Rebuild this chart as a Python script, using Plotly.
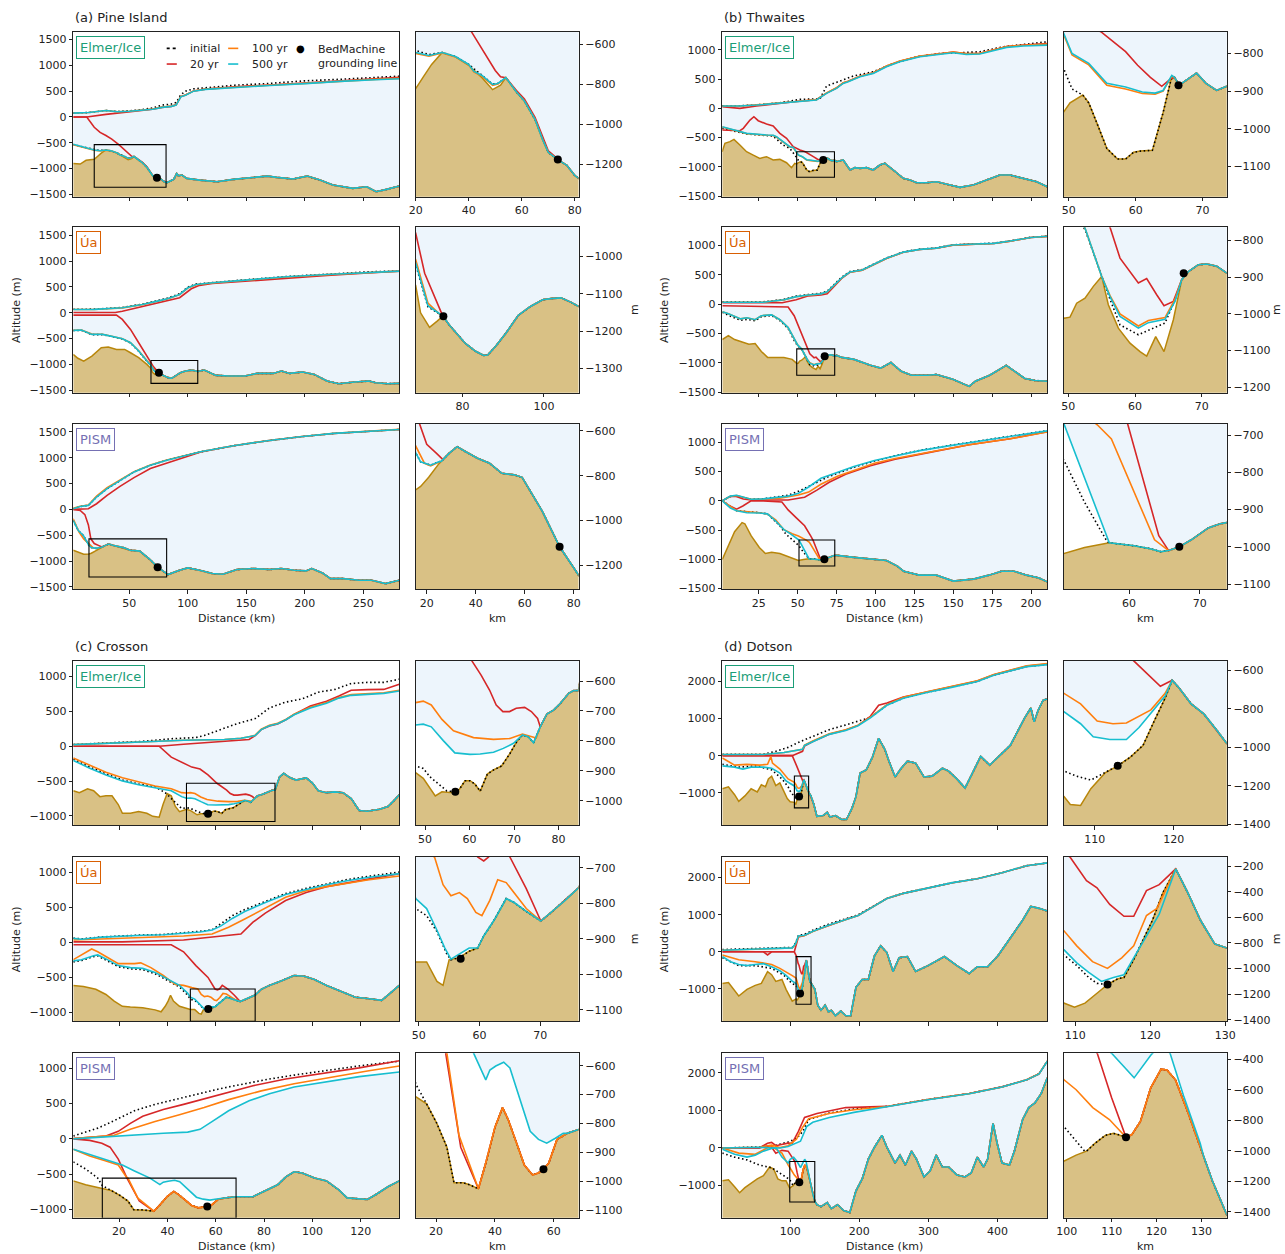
import plotly.graph_objects as go

W, H = 1285, 1254
FLOOR = -20000.0

# ============ (a) Pine Island ============
PI_X_RANGE = [2.1, 280.8]
PI_Y_RANGE = [-1545, 1652]

PI_EL_BED = [(2,-900),(8,-912),(13,-840),(17,-828),(20,-821),(23,-760),(26,-700),(30,-640),(35,-662),(40,-704),(45,-766),(49,-826),(52,-804),(54,-766),(58,-838),(61,-883),(65,-975),(68,-1080),(70,-1140),(72,-1160),(74,-1180),(77,-1205),(80,-1256),(82,-1275),(86,-1230),(88,-1210),(90.5,-1094),(92,-1140),(95,-1126),(99,-1190),(110,-1223),(125,-1255),(139,-1210),(151,-1178),(168,-1146),(176,-1171),(190,-1203),(202,-1146),(213,-1223),(224,-1320),(241,-1384),(253,-1352),(261,-1448),(270,-1403),(281,-1339)]
PI_EL_TOP0 = [(2,75),(15,85),(30,125),(40,105),(50,120),(60,140),(70,175),(78,230),(86,250),(90,280),(94,430),(98,500),(105,545),(115,565),(140,615),(170,650),(200,700),(230,730),(260,765),(281,790)]
PI_EL_TOP20 = [(2,0),(13.6,0),(30,50),(45,85),(50,105),(60,125),(70,150),(78,185),(86,205),(90,235),(94,395),(98,425),(105,505),(115,540),(140,585),(170,620),(200,660),(230,710),(260,745),(281,770)]
PI_EL_TOP100 = [(2,75),(15,85),(30,125),(40,100),(50,112),(60,128),(70,155),(78,190),(86,210),(90,235),(94,395),(98,425),(105,505),(115,540),(140,580),(170,615),(200,650),(230,695),(260,728),(281,748)]
PI_EL_TOP500 = [(2,75),(15,85),(30,125),(40,100),(50,110),(60,125),(70,150),(78,185),(86,205),(90,230),(94,390),(98,420),(105,500),(115,535),(140,575),(170,610),(200,645),(230,690),(260,720),(281,740)]
PI_EL_BOT0 = [(2,-535),(10,-582),(20,-630),(25,-650),(30,-640),(35,-660),(40,-700),(45,-752),(49,-798),(51,-795),(54,-766)]
PI_EL_BOT20 = [(2,0),(13.6,0),(20,-200),(25,-300),(30,-360),(35,-430),(41,-536),(46,-640),(50,-730),(52,-762),(54,-766),(58,-830),(61,-873),(65,-965),(68,-1070),(70,-1132),(72,-1155),(74,-1180)]
PI_EL_BOT100 = [(2,-540),(10,-585),(20,-645),(25,-658),(28,-650),(30,-642),(35,-662),(40,-702),(42,-738),(45,-758),(49,-805),(51,-798),(54,-766)]
PI_EL_BOT500 = [(2,-530),(10,-580),(20,-640),(25,-655),(28,-648),(30,-640),(35,-660),(40,-700),(42,-735),(45,-755),(49,-800),(51,-795),(54,-766)]
PI_EL_GL = (73.6, -1176)
PI_EL_ZOOM = ([20, 81.4], [-1362, -536])

PI_UA_BED = [(2,-805),(6,-880),(11,-934),(18,-837),(26,-676),(32,-663),(39,-708),(46,-708),(51,-773),(58,-869),(65,-998),(68.5,-1078),(69.7,-1151),(71.9,-1190),(73.7,-1174),(75.2,-1160),(76.7,-1183),(78.7,-1209),(80.7,-1233),(83.2,-1254),(85.2,-1265),(86.2,-1264),(88.2,-1240),(90.7,-1205),(93.7,-1158),(96.7,-1134),(99.7,-1116),(101.7,-1113),(104.2,-1111),(106.7,-1123),(108.5,-1134),(114,-1107),(124,-1210),(135,-1223),(149,-1223),(159,-1172),(173,-1172),(180,-1127),(187,-1172),(198,-1146),(208,-1191),(219,-1320),(229,-1371),(243,-1339),(255,-1320),(260.5,-1352),(271,-1371),(281,-1365)]
PI_UA_TOP0 = [(2,68),(20,70),(44,102),(61,168),(75,240),(82.5,282),(93,368),(100,495),(107,556),(121,588),(149,638),(184,700),(219,745),(254,790),(281,810)]
PI_UA_TOP20 = [(2,5),(38,5),(44,30),(61,120),(75,200),(82.5,240),(93,290),(103,463),(110,530),(121,565),(149,612),(184,670),(219,721),(254,770),(281,805)]
PI_UA_TOP100 = [(2,62),(20,64),(44,95),(61,158),(75,226),(82.5,266),(93,350),(100,478),(107,543),(121,577),(149,628),(184,692),(219,737),(254,783),(281,804)]
PI_UA_TOP500 = [(2,64),(20,66),(44,97),(61,161),(75,230),(82.5,270),(93,354),(100,483),(107,547),(121,580),(149,631),(184,695),(219,740),(254,785),(281,805)]
PI_UA_BOT0 = [(2,-345),(9,-340),(18,-422),(27,-422),(34,-455),(44,-505),(51,-585),(58,-745),(65,-938),(68.5,-1022),(71.5,-1135),(75.2,-1160)]
PI_UA_BOT20 = [(2,-45),(39,-45),(44,-129),(51,-322),(58,-580),(65,-837),(68.5,-938),(70.7,-1045),(75,-1156),(75.2,-1160)]
PI_UA_BOT100 = [(2,-338),(9,-332),(18,-412),(27,-414),(34,-448),(44,-500),(51,-578),(58,-735),(65,-925),(68.5,-1009),(71.5,-1125),(74.5,-1156),(75.2,-1160)]
PI_UA_BOT500 = [(2,-341),(9,-335),(18,-418),(27,-418),(34,-451),(44,-502),(51,-580),(58,-740),(65,-934),(68.5,-1018),(71.5,-1132),(74.5,-1156),(75.2,-1160)]
PI_UA_GL = (75.3, -1160)
PI_UA_ZOOM = ([68.5, 108.5], [-1365, -922])

PI_PS_BED = [(2,-789),(6,-830),(11,-866),(15.5,-863),(17.5,-848),(20.8,-807),(24.9,-747),(29.1,-700),(32.4,-670),(35.7,-692),(40.7,-722),(45.6,-744),(50.6,-789),(55.6,-796),(58.9,-807),(67.2,-960),(74.2,-1117),(81.9,-1243),(83,-1260),(93,-1176),(100,-1131),(110,-1176),(121,-1241),(130,-1254),(142,-1163),(156,-1144),(170,-1163),(180,-1144),(191,-1176),(201,-1189),(206,-1144),(215,-1228),(222,-1338),(232.5,-1338),(246.5,-1370),(257,-1370),(269,-1435),(281,-1370)]
PI_PS_TOP0 = [(2,13),(8,57),(15,78),(22,240),(31,401),(42,563),(54,725),(68,855),(82,952),(111,1114),(139,1231),(168,1328),(196,1405),(225,1470),(253,1515),(281,1547)]
PI_PS_TOP20 = [(2,0),(15,13),(22,110),(31,272),(42,447),(54,615),(68,790),(82,900),(100,1030),(111,1110),(139,1230),(168,1327),(196,1404),(225,1469),(253,1514),(281,1546)]
PI_PS_TOP100 = [(2,20),(8,62),(15,85),(22,260),(31,420),(42,575),(54,730),(68,858),(82,955),(111,1116),(139,1232),(168,1329),(196,1406),(225,1471),(253,1516),(281,1548)]
PI_PS_TOP500 = [(2,13),(8,57),(15,78),(22,240),(31,401),(42,563),(54,725),(68,855),(82,952),(111,1114),(139,1231),(168,1328),(196,1405),(225,1470),(253,1515),(281,1547)]
PI_PS_BOT0 = [(2,-214),(6.4,-408),(10.7,-505),(15.5,-698),(17.5,-738),(21.6,-753),(24.9,-738),(26,-735)]
PI_PS_BOT20 = [(2,0),(8,-20),(12,-100),(15,-300),(17.1,-569),(20,-660),(24,-700),(26.6,-728)]
PI_PS_BOT100 = [(2,-181),(7,-440),(11,-570),(15.5,-671),(19.1,-745),(21.6,-756),(24.9,-740),(26,-735)]
PI_PS_BOT500 = [(2,-214),(6.4,-408),(10.7,-505),(15.5,-698),(17.5,-738),(21.6,-753),(24.9,-738),(26,-735)]
PI_PS_GL = (74.2, -1117)
PI_PS_ZOOM = ([15.5, 81.9], [-1307, -569])

# ============ (b) Thwaites ============
TH_X_RANGE = [1.5, 210.4]
TH_Y_RANGE = [-1512, 1313]

TH_EL_BED = [(1.4,-742),(3.2,-599),(6.4,-570),(9,-530),(12.8,-627),(17.1,-742),(21.4,-799),(25.6,-856),(29.9,-827),(34.2,-884),(38.5,-873),(42.8,-930),(46,-1015),(48.1,-941),(49.3,-954),(50.2,-931),(52.1,-910),(53,-931),(54.2,-984),(55.7,-1052),(57.3,-1080),(58.5,-1080),(59.7,-1062),(60.7,-1059),(62.5,-1057),(64.1,-957),(65.3,-868),(65.8,-863),(66.5,-884),(67.8,-868),(69.1,-852),(70.5,-879),(72.1,-898),(73.6,-887),(74.9,-913),(79.2,-884),(83.6,-1055),(86.8,-1015),(90,-1027),(94.2,-1015),(98.5,-1055),(102.8,-970),(106,-941),(111.4,-1055),(117.8,-1198),(122.1,-1226),(126.4,-1272),(132.8,-1272),(139.3,-1255),(147.8,-1312),(154.3,-1352),(162.8,-1312),(171.4,-1226),(180,-1141),(186.3,-1141),(194.9,-1198),(203.5,-1255),(210.4,-1341)]
TH_EL_TOP0 = [(1.4,45),(12.8,45),(23.5,60),(38.5,97),(51.4,154),(64.3,165),(68.5,382),(77,473),(85.6,553),(98.5,627),(111.4,770),(126.4,884),(141.3,941),(154.3,953),(167,970),(181.9,1055),(194.9,1090),(210.4,1141)]
TH_EL_TOP20 = [(1.4,29),(12.8,0),(23.5,40),(38.5,88),(49.2,118),(62,148),(68.5,262),(74.9,350),(79.2,436),(82.4,464),(90,550),(98.5,608),(107,722),(115.6,808),(128.5,893),(141.3,935),(149.9,964),(158.4,936),(167,942),(175.6,1000),(184.2,1058),(194.9,1085),(210.4,1112)]
TH_EL_TOP100 = [(1.4,42),(12.8,42),(23.5,60),(38.5,90),(49.2,118),(62,150),(68.5,265),(74.9,352),(79.2,438),(82.4,466),(90,552),(98.5,610),(107,724),(115.6,810),(128.5,895),(141.3,936),(149.9,965),(158.4,937),(167,943),(175.6,1000),(184.2,1057),(194.9,1082),(210.4,1100)]
TH_EL_TOP500 = [(1.4,40),(12.8,40),(23.5,57),(38.5,86),(49.2,114),(62,143),(68.5,257),(74.9,342),(79.2,428),(82.4,456),(90,542),(98.5,599),(107,713),(115.6,799),(128.5,884),(141.3,924),(149.9,953),(158.4,924),(167,930),(175.6,987),(184.2,1044),(194.9,1067),(210.4,1084)]
TH_EL_BOT0 = [(1.4,-342),(8.5,-382),(17.1,-439),(34.2,-473),(40.6,-627),(44.9,-685),(47.5,-770),(49.3,-842),(50.5,-894),(52.1,-910)]
TH_EL_BOT20 = [(1.4,-371),(12.8,-382),(15,-342),(19.3,-200),(21.8,-143),(24.6,-211),(29.9,-268),(34.2,-302),(38.5,-428),(42.8,-513),(47.1,-656),(51.4,-713),(54.8,-742),(58.5,-795),(60.3,-831),(62.2,-863),(63.9,-887),(65.3,-866),(65.8,-863)]
TH_EL_BOT100 = [(1.4,-318),(8.5,-374),(17.1,-432),(29.9,-460),(34.2,-463),(36.3,-490),(40.6,-575),(44.9,-660),(47.1,-672),(49.3,-752),(50.5,-804),(53,-830),(55.7,-884),(58.5,-894),(61,-906),(62.9,-908),(64.1,-900),(65.4,-860),(65.8,-863)]
TH_EL_BOT500 = [(1.4,-314),(8.5,-371),(17.1,-428),(29.9,-456),(34.2,-460),(36.3,-485),(40.6,-570),(44.9,-656),(47.1,-667),(49.3,-748),(50.5,-800),(53,-826),(55.7,-879),(58.5,-889),(61,-902),(62.9,-905),(64.1,-898),(65.4,-858),(65.8,-863)]
TH_EL_GL = (66.4, -884)
TH_EL_ZOOM = ([49.3, 73.6], [-1180, -742])

TH_UA_BED = [(1.5,-604),(5.4,-536),(9.4,-604),(14.7,-658),(18.6,-685),(22.6,-672),(26.6,-807),(30.6,-909),(35.8,-909),(41.1,-909),(46.4,-943),(49.35,-1012),(50.25,-1009),(51.25,-971),(52.5,-957),(53.75,-925),(55,-898),(56,-975),(57.5,-1039),(59.25,-1080),(60.75,-1103),(61.75,-1115),(63.1,-1062),(64.35,-1103),(65.75,-1016),(67,-907),(68,-885),(69.5,-866),(70.75,-864),(72.25,-870),(73.75,-889),(75,-875),(78.2,-909),(86.1,-943),(96.7,-1045),(103.3,-1092),(109.9,-997),(116.5,-1146),(123.1,-1214),(133.7,-1214),(139,-1201),(149.6,-1282),(160.2,-1404),(164.2,-1316),(173.4,-1214),(184,-1045),(195.9,-1269),(202.5,-1303),(210.4,-1316)]
TH_UA_TOP0 = [(1.5,40),(27.9,40),(41.1,82),(49,138),(56.9,165),(64.9,186),(68.9,222),(72.9,328),(78.2,460),(83.5,558),(91.4,590),(99.3,690),(107.3,792),(117.9,893),(128.4,940),(139,960),(149.6,1014),(160.2,1027),(176.1,1041),(186.6,1082),(199.9,1143),(210.4,1163)]
TH_UA_TOP20 = [(1.5,25),(40,25),(49,75),(56.9,142),(64.9,156),(68.9,176),(72.9,290),(78.2,440),(83.5,545),(91.4,580),(99.3,683),(107.3,785),(117.9,887),(128.4,934),(139,955),(149.6,1009),(160.2,1022),(176.1,1036),(186.6,1077),(199.9,1138),(210.4,1158)]
TH_UA_TOP100 = [(1.5,33),(27.9,33),(41.1,74),(49,127),(56.9,154),(64.9,174),(68.9,208),(72.9,310),(78.2,446),(83.5,547),(91.4,581),(99.3,683),(107.3,785),(117.9,887),(128.4,934),(139,955),(149.6,1009),(160.2,1022),(176.1,1036),(186.6,1077),(199.9,1138),(210.4,1158)]
TH_UA_TOP500 = [(1.5,34),(27.9,34),(41.1,75),(49,129),(56.9,156),(64.9,176),(68.9,210),(72.9,312),(78.2,448),(83.5,549),(91.4,583),(99.3,685),(107.3,787),(117.9,889),(128.4,936),(139,957),(149.6,1011),(160.2,1024),(176.1,1038),(186.6,1079),(199.9,1140),(210.4,1160)]
TH_UA_BOT0 = [(1.5,-140),(5.4,-190),(13.3,-275),(17.3,-260),(22.6,-285),(26.6,-215),(33.2,-195),(38.5,-280),(43.8,-415),(47.7,-620),(50,-712),(52.5,-770),(55,-898),(56.25,-960),(57.75,-1030),(60.5,-1057),(64.5,-1025),(66.2,-953),(67,-907)]
TH_UA_BOT20 = [(1.5,-27),(43.8,-47),(47.7,-197),(53,-536),(56.25,-764),(57.75,-848),(60.5,-916),(61.75,-904),(63.25,-948),(64.35,-978),(65.75,-966),(67,-907)]
TH_UA_BOT100 = [(1.5,-129),(5.4,-163),(13.3,-251),(17.3,-231),(22.6,-265),(26.6,-197),(33.2,-183),(38.5,-265),(43.8,-400),(47.7,-604),(50,-700),(52.5,-766),(55,-898),(56.25,-950),(57.75,-1000),(60.5,-1033),(62,-1018),(64.5,-1010),(66,-960),(67,-907)]
TH_UA_BOT500 = [(1.5,-129),(5.4,-163),(13.3,-251),(17.3,-231),(22.6,-265),(26.6,-197),(33.2,-183),(38.5,-265),(43.8,-400),(47.7,-604),(50,-700),(52.5,-766),(55,-898),(56.25,-953),(57.75,-1007),(60.5,-1039),(62,-1024),(64.5,-1015),(66,-966),(67,-907)]
TH_UA_GL = (67.3, -889)
TH_UA_ZOOM = ([49.35, 73.75], [-1215, -764])

TH_PS_BED = [(1.5,-1000),(5.4,-764),(9.4,-527),(14.2,-372),(16,-392),(20,-595),(25.3,-797),(29.2,-899),(33.2,-878),(38.5,-899),(43.8,-953),(50.4,-1020),(53.7,-1002),(57.2,-989),(60.7,-997),(63,-1005),(64.5,-1013),(65.6,-1010),(67.1,-1000),(68.8,-981),(71.2,-949),(72.9,-938),(73.8,-935),(75,-932),(86,-966),(97,-1000),(107,-1020),(114,-1115),(118,-1203),(128,-1270),(139,-1270),(150,-1372),(157.5,-1358),(163,-1338),(173,-1270),(181,-1203),(189,-1203),(197,-1270),(205,-1318),(210.4,-1385)]
TH_PS_TOP0 = [(1.5,0),(6.7,75),(10.7,90),(14.7,60),(20,30),(27.9,36),(38.5,70),(43.8,95),(50.4,162),(59.6,284),(70.2,419),(86.1,574),(99.3,680),(112.6,772),(128.4,862),(147,945),(165.5,1020),(186.6,1100),(210.4,1200)]
TH_PS_TOP20 = [(1.5,0),(6,70),(10,80),(15,30),(20,14),(43.8,14),(54.4,61),(62.3,182),(70.2,318),(80.8,453),(96.7,601),(112.6,709),(134,824),(160.2,959),(186.6,1061),(210.4,1180)]
TH_PS_TOP100 = [(1.5,0),(6.7,78),(10.7,92),(14.7,60),(20,27),(27.9,32),(38.5,45),(50.4,100),(57,149),(64.9,284),(75.5,419),(86.1,520),(99.3,642),(112.6,723),(134,824),(160.2,959),(186.6,1061),(210.4,1176)]
TH_PS_TOP500 = [(1.5,0),(6.7,81),(10.7,95),(14.7,61),(20,27),(27.9,34),(38.5,61),(43.8,81),(50.4,128),(57,236),(64.9,385),(75.5,486),(86.1,588),(99.3,689),(112.6,770),(128.4,858),(147,939),(165.5,1014),(186.6,1095),(210.4,1196)]
TH_PS_BOT0 = [(1.5,0),(10.7,-169),(25.3,-203),(30.5,-223),(38.5,-426),(42.5,-574),(46.4,-662),(49,-720),(50.8,-768),(53.7,-880),(56.9,-986),(57.2,-989)]
TH_PS_BOT20 = [(1.5,0),(5.4,-74),(10.7,-142),(14.7,-88),(20,0),(27.9,0),(39.8,-20),(43.8,-155),(49.1,-291),(54.4,-426),(58.3,-600),(59.8,-670),(64.2,-970),(65.6,-1010)]
TH_PS_BOT100 = [(1.5,0),(10.7,-169),(25.3,-205),(30.5,-225),(35.8,-324),(41.1,-493),(46.4,-561),(50.4,-600),(55.5,-672),(57.5,-710),(63.6,-981),(65.6,-1010)]
TH_PS_BOT500 = [(1.5,0),(6.7,-122),(10.7,-169),(17.3,-203),(25.3,-209),(30.5,-223),(35.8,-345),(41.1,-493),(45.1,-561),(49.1,-640),(50.8,-670),(57.2,-989)]
TH_PS_GL = (67.1, -1000)
TH_PS_ZOOM = ([50.8, 73.8], [-1114, -670])

# ============ (c) Crosson ============
CR_X_RANGE = [1.1, 135.9]
CR_Y_RANGES = [[-1131, 1227], [-1133, 1224], [-1118, 1213]]

CR_EL_BED = [(1.1,-639),(3.6,-667),(7,-611),(9.5,-639),(12.1,-724),(14.6,-713),(17.1,-713),(19.7,-837),(21.4,-962),(24.7,-962),(28.1,-939),(31.5,-962),(34,-1007),(36.6,-1018),(38.2,-837),(39.9,-679),(41.6,-713),(43.3,-865),(45,-939),(46.7,-922),(47.9,-906),(49.6,-925),(51.1,-959),(52.3,-984),(53.8,-970),(55.6,-972),(56.8,-970),(57.7,-962),(59,-933),(60.1,-933),(61.2,-944),(62.4,-968),(64,-911),(65.4,-897),(67.2,-884),(69.1,-842),(70.6,-803),(71.9,-780),(73.2,-786),(74.4,-806),(75.9,-753),(77.4,-710),(78.9,-697),(80.4,-675),(82.3,-641),(83.4,-632),(84.5,-632),(86.4,-441),(88.1,-390),(90.6,-450),(93.2,-486),(95.7,-469),(97.4,-455),(99.9,-526),(102.4,-639),(105.8,-667),(109.2,-656),(112.6,-667),(116,-752),(119.3,-922),(122.7,-933),(127.8,-905),(131.2,-865),(133.7,-781),(135.9,-696)]
CR_EL_TOP0 = [(1.1,25),(13,42),(29.8,70),(41.6,107),(51.8,124),(55.2,153),(62,238),(68.7,322),(76.3,396),(82.2,549),(89,633),(95.7,679),(102.4,775),(109.3,815),(116,899),(122.7,916),(129.5,916),(135.9,962)]
CR_EL_TOP20 = [(1.1,0),(36.6,0),(46.7,28),(60.2,57),(73.8,96),(76.3,150),(78.8,238),(82.2,290),(85.6,320),(89,380),(92.4,455),(99.1,577),(105.8,645),(110.9,720),(116,803),(122.7,812),(129.5,815),(135.9,888)]
CR_EL_TOP100 = [(1.1,23),(13,40),(29.8,68),(46.7,85),(63.6,96),(70.4,113),(73.8,136),(76.3,158),(78.8,243),(82.2,300),(85.6,328),(89,385),(92.4,460),(99.1,560),(105.8,628),(110.9,700),(116,740),(122.7,755),(129.5,768),(135.9,803)]
CR_EL_TOP500 = [(1.1,23),(13,40),(29.8,68),(46.7,85),(63.6,96),(70.4,113),(73.8,136),(76.3,153),(78.8,238),(82.2,294),(85.6,322),(89,379),(92.4,452),(99.1,549),(105.8,617),(110.9,690),(116,730),(122.7,747),(129.5,758),(135.9,792)]
CR_EL_BOT0 = [(1.1,-187),(7.9,-300),(14.6,-396),(21.4,-486),(28.1,-543),(34.9,-583),(39.1,-667),(42.5,-781),(45.9,-894),(47.9,-884),(49.6,-892),(51.1,-920),(53.7,-951),(54.9,-967),(56.8,-970)]
CR_EL_BOT20 = [(1.1,0),(36.6,0),(41.6,-158),(46.7,-243),(50.1,-300),(53.5,-328),(56.8,-413),(60.5,-532),(62.6,-580),(64.5,-630),(66,-680),(67.5,-702),(69,-702),(70.5,-691),(72.4,-688),(73.9,-702),(75.3,-725),(75.9,-753)]
CR_EL_BOT100 = [(1.1,-170),(7.9,-271),(14.6,-373),(21.4,-452),(28.1,-509),(34.9,-571),(41.6,-611),(45.9,-667),(47.9,-672),(49.6,-667),(51.4,-680),(53.8,-728),(56.4,-766),(60.9,-789),(65.4,-795),(69.1,-792),(71.9,-777),(73.9,-786),(75,-790),(75.9,-753)]
CR_EL_BOT500 = [(1.1,-204),(7.9,-317),(14.6,-413),(21.4,-498),(28.1,-554),(34.9,-594),(41.6,-639),(45.9,-724),(47.9,-747),(49.6,-744),(51.4,-753),(54.1,-799),(56.7,-840),(60.1,-845),(62.4,-844),(65.4,-838),(67.6,-825),(69.9,-808),(71.9,-780)]
CR_EL_GL = (56.8, -970)
CR_EL_ZOOM = ([47.9, 84.5], [-1081, -532])

CR_UA_BED = [(1.1,-618),(5.3,-635),(10.4,-674),(14.6,-748),(18,-844),(21.4,-918),(24.7,-929),(29.8,-940),(34.9,-969),(37.4,-997),(39.1,-918),(40.3,-844),(41.3,-759),(42.5,-844),(45,-918),(47.5,-940),(49.5,-965),(51.3,-965),(53,-1020),(54,-1031),(55,-959),(56.7,-953),(58.3,-935),(59.7,-926),(60.7,-892),(62.4,-848),(64.4,-787),(65.7,-798),(67.7,-823),(70.1,-850),(71.8,-826),(74.1,-792),(76.3,-757),(78.8,-674),(82.2,-618),(87.3,-550),(92.4,-476),(96.6,-487),(100.8,-533),(105.8,-618),(112.6,-714),(117.7,-788),(122.7,-805),(128.6,-833),(131.2,-759),(135.9,-618)]
CR_UA_TOP0 = [(1.1,60),(4.5,50),(13,78),(21.4,95),(29.8,106),(38.3,112),(46.7,135),(55.2,164),(58.5,180),(62,261),(67,385),(72,470),(80.5,590),(88.9,700),(97.4,775),(105.8,840),(114.3,900),(122.7,945),(135.9,1008)]
CR_UA_TOP20 = [(1.1,6),(21.4,6),(46.7,34),(55.2,62),(62,91),(70.4,119),(75.4,289),(80.5,419),(88.9,600),(97.4,714),(105.8,799),(122.7,910),(135.9,986)]
CR_UA_TOP100 = [(1.1,34),(21.4,57),(46.7,91),(58.5,119),(65.3,215),(72,334),(80.5,487),(88.9,646),(97.4,740),(105.8,799),(122.7,895),(135.9,952)]
CR_UA_TOP500 = [(1.1,57),(4.5,45),(13,74),(21.4,91),(29.8,102),(38.3,108),(46.7,130),(53.5,147),(58.5,176),(62,232),(67,346),(72,442),(80.5,572),(88.9,686),(97.4,759),(105.8,827),(114.3,884),(122.7,929),(135.9,986)]
CR_UA_BOT0 = [(1.1,-280),(4.5,-262),(9.5,-205),(11.2,-195),(14.6,-255),(19.7,-350),(24.7,-380),(29.8,-392),(34.9,-450),(40,-540),(45,-640),(48.4,-760),(49.5,-815),(51.3,-835),(53,-880),(54.6,-942),(55.3,-959),(56.7,-953)]
CR_UA_BOT20 = [(1.1,-34),(41.6,-34),(46.7,-136),(51.8,-334),(56.8,-504),(59.7,-670),(60.7,-681),(61.5,-670),(62.7,-618),(65,-670),(67.7,-759),(70.1,-850)]
CR_UA_BOT100 = [(1.1,-249),(6.2,-147),(8.7,-96),(11.2,-136),(14.6,-204),(19.7,-306),(26.4,-306),(29,-295),(33.2,-363),(38.3,-476),(43.3,-606),(46.7,-618),(50.1,-650),(52.6,-670),(54,-748),(55.3,-779),(56.7,-770),(58,-787),(59.4,-826),(60.4,-835),(61.7,-792),(63,-734),(64.4,-742),(65.7,-770),(67.7,-815),(70.1,-850)]
CR_UA_BOT500 = [(1.1,-266),(4.5,-249),(9.5,-193),(11.2,-181),(14.6,-238),(19.7,-334),(24.7,-363),(29.8,-374),(34.9,-431),(40,-521),(45,-618),(48.4,-731),(49.5,-787),(51.3,-815),(53,-876),(54.3,-926),(55.3,-957),(56.7,-942),(58.3,-926),(59.7,-926)]
CR_UA_GL = (56.9, -956)
CR_UA_ZOOM = ([49.5, 76.3], [-1132, -670])

CR_PS_BED = [(1.1,-596),(6.2,-652),(11.2,-691),(13.1,-707),(16.8,-732),(20.3,-800),(23.7,-882),(26.1,-1005),(29.2,-1005),(31.4,-1012),(34.4,-1026),(36.9,-937),(40,-814),(42.6,-745),(44.5,-786),(47.9,-882),(50,-944),(52.8,-978),(54.8,-971),(56.5,-958),(58.3,-937),(61.1,-855),(64.6,-834),(68.4,-821),(75.4,-820),(80.5,-736),(85.6,-652),(89,-539),(92.4,-466),(95.7,-483),(100.8,-556),(105.8,-596),(110.9,-725),(114.3,-837),(117.7,-848),(122.7,-860),(126.1,-792),(131.2,-680),(135.9,-596)]
CR_PS_TOP0 = [(1.1,39),(6.2,96),(11.2,152),(16.3,230),(21.4,320),(26.4,399),(34.9,489),(43.3,556),(51.8,624),(62,713),(72,781),(82.2,848),(92.4,904),(105.8,972),(119.3,1034),(135.9,1101)]
CR_PS_TOP20 = [(1.1,6),(14.6,39),(19.7,107),(24.7,219),(29.8,320),(38.3,416),(46.7,489),(55.2,567),(65.3,669),(75.4,753),(88.9,848),(102.4,921),(119.3,1006),(135.9,1107)]
CR_PS_TOP100 = [(1.1,6),(18,51),(24.7,135),(34.9,247),(45,343),(55.2,444),(65.3,556),(78.8,680),(92.4,781),(105.8,865),(122.7,961),(135.9,1034)]
CR_PS_TOP500 = [(1.1,0),(12.9,28),(24.7,51),(38.3,79),(48.4,96),(53.5,135),(58.6,247),(65.3,399),(73.8,539),(82.2,640),(92.4,736),(105.8,809),(119.3,882),(135.9,949)]
CR_PS_BOT0 = [(1.1,-326),(6.2,-427),(11.2,-556),(13.1,-663),(16.8,-732)]
CR_PS_BOT20 = [(1.1,0),(7.9,-22),(12.9,-62),(16.3,-118),(19.7,-287),(23,-520),(23.3,-557),(28.4,-882),(34.1,-1020),(34.4,-1026)]
CR_PS_BOT100 = [(1.1,-146),(7.9,-242),(14.6,-315),(19.7,-371),(23,-540),(23.7,-557),(27.8,-841),(34.4,-1026)]
CR_PS_BOT500 = [(1.1,-146),(7.9,-219),(14.6,-287),(21.4,-371),(26.4,-455),(31.5,-540),(32.8,-557),(36.9,-649),(38.3,-615),(40.3,-601),(43,-588),(45.1,-608),(48.5,-718),(52,-827),(54.8,-855),(57.6,-868),(60.4,-852),(63.2,-834),(64.6,-834)]
CR_PS_GL = (56.5, -958)
CR_PS_ZOOM = ([13.1, 68.4], [-1126, -557])

# ============ (d) Dotson ============
DO_X_RANGE = [1.8, 472]
DO_Y_RANGES = [[-1866, 2556], [-1872, 2553], [-1858, 2524]]

DO_EL_BED = [(1.8,-891),(10.7,-838),(19.6,-1050),(25.6,-1230),(34.5,-1082),(43.5,-891),(52.4,-976),(58.3,-785),(64.3,-838),(68.5,-626),(73.2,-551),(79.2,-806),(85.1,-732),(91.1,-997),(95.8,-1156),(100,-1240),(106.1,-1256),(106.9,-1297),(108.2,-1302),(109.5,-1215),(111.3,-1133),(112.9,-1096),(114.5,-1051),(116.1,-990),(117.6,-856),(118.9,-744),(119.8,-651),(120.7,-692),(122.2,-774),(123.8,-826),(125.4,-908),(126.7,-979),(130,-1080),(134,-1300),(138.7,-1633),(147.6,-1612),(153.6,-1527),(157.7,-1654),(165.5,-1612),(174.4,-1718),(181.5,-1718),(189.3,-1421),(195.2,-1103),(201.2,-467),(210.1,-382),(219,-42),(228,467),(236.9,170),(242.9,-148),(251.8,-573),(260.7,-339),(269.6,-148),(281.5,-201),(293.5,-573),(305.4,-551),(320.2,-339),(329.2,-414),(341.1,-626),(353,-870),(364.9,-414),(375.6,-21),(388.7,-254),(397.6,-95),(406.5,64),(418.5,276),(430.4,700),(439.3,1018),(448.2,1283),(453,912),(459,1230),(466.1,1495),(472,1527)]
DO_EL_TOP0 = [(1.8,35),(61.3,40),(79.2,117),(97,223),(114.9,382),(132.7,509),(156.5,700),(180.4,827),(198.2,933),(216,1030),(239.9,1360),(263.7,1550),(299.4,1710),(335.1,1850),(370.8,2000),(394.6,2170),(418.5,2295),(442.3,2400),(472,2455)]
DO_EL_TOP20 = [(1.8,0),(103,0),(117.9,117),(120.8,260),(132.7,380),(156.5,575),(180.4,690),(198.2,815),(216,1060),(228,1357),(239.9,1420),(263.7,1580),(299.4,1720),(335.1,1860),(370.8,2010),(394.6,2175),(418.5,2300),(442.3,2410),(472,2465)]
DO_EL_TOP100 = [(1.8,32),(61.3,32),(91.1,85),(108.9,140),(117.9,175),(120.8,285),(132.7,395),(156.5,590),(180.4,695),(198.2,822),(216,1035),(239.9,1375),(263.7,1570),(299.4,1725),(335.1,1865),(370.8,2015),(394.6,2185),(418.5,2310),(442.3,2420),(472,2481)]
DO_EL_TOP500 = [(1.8,32),(61.3,32),(91.1,85),(108.9,138),(117.9,170),(120.8,276),(132.7,382),(156.5,573),(180.4,679),(198.2,806),(216,1018),(239.9,1357),(263.7,1548),(299.4,1707),(335.1,1845),(370.8,1994),(394.6,2163),(418.5,2290),(442.3,2397),(472,2450)]
DO_EL_BOT0 = [(1.8,-233),(25.6,-308),(49.4,-276),(73.2,-382),(88.1,-626),(97,-838),(100,-950),(106.1,-1123),(107.7,-1150),(109.5,-1170),(111.3,-1133)]
DO_EL_BOT20 = [(1.8,0),(103,0),(108.9,-255),(114.9,-549),(118.3,-682),(119.8,-651)]
DO_EL_BOT100 = [(1.8,-64),(19.6,-255),(37.5,-233),(55.4,-255),(67.3,-233),(72,-21),(74.4,-201),(85.1,-361),(97,-626),(100,-650),(106.1,-719),(108.2,-774),(110.3,-863),(112.3,-877),(114,-873),(117.1,-805),(118.9,-719),(119.8,-651)]
DO_EL_BOT500 = [(1.8,-276),(19.6,-308),(31.5,-361),(43.5,-308),(61.3,-308),(73.2,-339),(85.1,-467),(94,-679),(100,-750),(106.1,-815),(108.2,-877),(109.8,-945),(111.9,-959),(114,-959),(115.6,-897),(117.4,-805),(118.9,-733),(119.8,-651)]
DO_EL_GL = (112.9, -1096)
DO_EL_ZOOM = ([106.1, 126.7], [-1404, -549])

DO_UA_BED = [(1.8,-851),(10.7,-830),(25.6,-1191),(37.5,-1011),(49.4,-904),(58.3,-851),(67.3,-532),(73.2,-617),(79.2,-798),(88.1,-745),(94,-1011),(103,-1330),(108.5,-1270),(109.9,-1301),(111.3,-1270),(112.9,-1193),(114.3,-1125),(115.7,-1079),(116.5,-1070),(117.8,-931),(118.9,-792),(120.3,-623),(121.7,-407),(123.4,-222),(125,-407),(126.7,-623),(128.6,-808),(130.2,-839),(135.7,-1011),(139.9,-1436),(144.6,-1574),(150.6,-1436),(155.4,-1617),(159.5,-1574),(165.5,-1723),(173.2,-1596),(180.4,-1723),(187.5,-1723),(195.2,-957),(204.2,-745),(213.1,-745),(222,-106),(230.9,160),(239.9,-21),(248.8,-532),(257.7,-160),(269.6,-128),(281.5,-532),(299.4,-372),(323.2,-128),(341.1,-372),(358.9,-585),(370.8,-404),(385.7,-404),(400.6,-106),(418.5,372),(436.3,851),(448.2,1223),(460.1,1170),(472,1096)]
DO_UA_TOP0 = [(1.8,60),(61.3,90),(103,120),(107.7,230),(111.9,445),(120.8,470),(132.7,580),(156.5,750),(180.4,895),(198.2,995),(216,1180),(239.9,1440),(263.7,1578),(299.4,1726),(335.1,1865),(370.8,1970),(406.5,2130),(442.3,2320),(472,2395)]
DO_UA_TOP20 = [(1.8,0),(106,0),(111.9,400),(120.8,440),(132.7,550),(156.5,720),(180.4,870),(198.2,977),(216,1169),(239.9,1435),(263.7,1573),(299.4,1722),(335.1,1861),(370.8,1967),(406.5,2127),(442.3,2318),(472,2393)]
DO_UA_TOP100 = [(1.8,43),(61.3,70),(103,100),(107.7,200),(111.9,415),(120.8,440),(132.7,548),(156.5,718),(180.4,868),(198.2,976),(216,1168),(239.9,1434),(263.7,1573),(299.4,1722),(335.1,1861),(370.8,1967),(406.5,2127),(442.3,2318),(472,2393)]
DO_UA_TOP500 = [(1.8,43),(61.3,74),(103,106),(107.7,213),(111.9,426),(120.8,447),(132.7,553),(156.5,723),(180.4,872),(198.2,979),(216,1170),(239.9,1436),(263.7,1574),(299.4,1723),(335.1,1862),(370.8,1968),(406.5,2128),(442.3,2319),(472,2394)]
DO_UA_BOT0 = [(1.8,-160),(25.6,-372),(49.4,-372),(73.2,-447),(91.1,-638),(103,-860),(108.5,-894),(110.2,-977),(111.8,-1070),(112.9,-1116),(114.3,-1125)]
DO_UA_BOT20 = [(1.8,0),(61.3,0),(67.3,-85),(73.2,0),(106,0),(109.3,-129),(111.5,-314),(112.9,-370),(114.6,-499),(116.5,-592),(117.8,-592),(119.5,-391),(121.2,-345),(123.4,-222)]
DO_UA_BOT100 = [(1.8,-85),(25.6,-213),(49.4,-266),(73.2,-340),(85.1,-447),(94,-532),(103,-640),(108.5,-706),(110.2,-823),(112.3,-946),(114.3,-999),(116.2,-916),(117.8,-823),(119.5,-586),(120.9,-530),(123.4,-222)]
DO_UA_BOT500 = [(1.8,-128),(13.7,-266),(25.6,-340),(37.5,-372),(49.4,-340),(61.3,-319),(73.2,-404),(85.1,-511),(94,-638),(103,-790),(108.5,-854),(110.2,-956),(111.8,-1030),(113.5,-1101),(115.1,-1070),(116.5,-1048),(117.8,-916),(119.5,-746),(121.2,-576),(123.4,-222)]
DO_UA_GL = (114.3, -1125)
DO_UA_ZOOM = ([108.5, 130.2], [-1412, -129])

DO_PS_BED = [(1.8,-876),(10.7,-845),(19.6,-1035),(26.8,-1193),(34.5,-1056),(43.5,-929),(52.4,-824),(61.3,-739),(70.2,-507),(76.2,-560),(82.1,-824),(88.1,-876),(94,-876),(98.2,-1030),(99.4,-1068),(102.1,-1029),(104.4,-1003),(106.3,-951),(108.6,-899),(110.4,-886),(112.1,-899),(113.2,-912),(114.5,-894),(116.4,-808),(118.7,-587),(121,-465),(122.3,-470),(124.2,-535),(126.9,-743),(129.7,-977),(132.4,-1197),(135.6,-1418),(138.7,-1510),(144.6,-1563),(153.6,-1457),(159.5,-1616),(168.5,-1510),(177.4,-1668),(186.3,-1721),(195.2,-1141),(204.2,-824),(213.1,-296),(222,21),(232.7,338),(239.9,21),(251.8,-401),(258.9,-190),(266.7,-454),(275.6,-84),(282.7,-296),(293.5,-771),(302.4,-612),(311.3,-190),(320.2,-507),(329.2,-507),(341.1,-718),(353,-771),(361.9,-665),(370.8,-243),(379.8,-507),(385.7,-296),(393.5,655),(399.4,127),(406.5,-401),(417.3,-454),(424.4,-84),(436.3,760),(445.2,1077),(454.2,1204),(463.1,1447),(472,1869)]
DO_PS_TOP0 = [(1.8,0),(55.4,25),(73.2,40),(97,160),(109,253),(117.9,430),(126.8,760),(156.5,930),(192.3,1040),(239.9,1110),(299.4,1295),(358.9,1452),(406.5,1630),(442.3,1820),(460.1,1978),(472,2316)]
DO_PS_TOP20 = [(1.8,0),(55.4,0),(67.3,127),(73.2,150),(79.2,60),(88.1,100),(97,130),(103,127),(111.9,443),(120.8,813),(138.7,919),(180.4,1077),(239.9,1108),(299.4,1294),(358.9,1451),(406.5,1629),(442.3,1819),(460.1,1978),(472,2315)]
DO_PS_TOP100 = [(1.8,0),(55.4,21),(73.2,80),(85.1,10),(97,60),(109,232),(117.9,549),(126.8,781),(156.5,919),(192.3,1020),(239.9,1105),(299.4,1292),(358.9,1450),(406.5,1628),(442.3,1818),(460.1,1977),(472,2315)]
DO_PS_TOP500 = [(1.8,0),(55.4,21),(73.2,0),(85.1,0),(97,42),(114.9,180),(123.8,570),(132.7,686),(156.5,813),(192.3,950),(239.9,1098),(299.4,1288),(358.9,1447),(406.5,1626),(442.3,1816),(460.1,1975),(472,2313)]
DO_PS_BOT0 = [(1.8,-137),(19.6,-243),(37.5,-317),(55.4,-454),(73.2,-528),(85.1,-665),(94,-771),(99.4,-842),(101.7,-925),(104,-1003),(104.4,-1003)]
DO_PS_BOT20 = [(1.8,0),(55.4,0),(67.3,60),(73.2,21),(79.2,-137),(88.1,-63),(97,-84),(103,-250),(106.8,-361),(110,-652),(113.2,-912)]
DO_PS_BOT100 = [(1.8,0),(25.6,-137),(49.4,-169),(67.3,-11),(73.2,63),(79.2,-32),(88.1,-137),(97,-450),(99.4,-535),(102.1,-600),(105.8,-717),(109.5,-795),(112.3,-886),(113.2,-912)]
DO_PS_BOT500 = [(1.8,-32),(19.6,-169),(37.5,-243),(49.4,-190),(61.3,-84),(73.2,-11),(80,0),(88.1,-243),(97,-401),(100,-300),(105,-250),(110,-361),(115,-522),(118.7,-374),(121,-300),(123,-361),(126,-639),(129.7,-951),(130.5,-1040)]
DO_PS_GL = (113.2, -912)
DO_PS_ZOOM = ([99.4, 135.6], [-1439, -361])

TIME_LABELS = ["initial", "20 yr", "100 yr", "500 yr"]
MODEL_NAMES = ["Elmer/Ice", "Úa", "PISM"]

# ---------------- styles ----------------
FONT = "DejaVu Sans"
TXT = "#222222"
ICE = "#edf5fc"
BED_FILL = "#d9c185"
BED_LINE = "#b8860b"
TIME_COLORS = ["black", "#d62728", "#ff7f0e", "#17becf"]
TIME_DASH = ["1.5px,2.6px", "solid", "solid", "solid"]
MODEL_COLORS = ["#1b9e77", "#d95f02", "#7570b3"]

L_MAIN, L_ZOOM = (73.3, 399.3), (415.7, 578.5)
R_MAIN, R_ZOOM = (722.3, 1047.3), (1064.0, 1226.7)
TOP_ROWS = [(31.7, 196.7), (227.3, 392.7), (424.0, 589.3)]
BOT_ROWS = [(660.7, 825.0), (857.0, 1021.3), (1053.3, 1217.7)]


def xd(a, b):
    return [a / W, b / W]


def yd(a, b):
    return [1 - b / H, 1 - a / H]


def model(bed, tops, bots, gl, zoom, zxdt, zydt):
    return dict(bed=bed, tops=tops, bots=bots, gl=gl, zoom=zoom, zxdt=zxdt, zydt=zydt)


GLACIERS = [
    dict(title="(a) Pine Island", main=L_MAIN, zoomx=L_ZOOM, rows=TOP_ROWS, xr=PI_X_RANGE,
         yr=[PI_Y_RANGE] * 3, xdt=50, ydt=500, models=[
            model(PI_EL_BED, [PI_EL_TOP0, PI_EL_TOP20, PI_EL_TOP100, PI_EL_TOP500],
                  [PI_EL_BOT0, PI_EL_BOT20, PI_EL_BOT100, PI_EL_BOT500], PI_EL_GL, PI_EL_ZOOM, 20, 200),
            model(PI_UA_BED, [PI_UA_TOP0, PI_UA_TOP20, PI_UA_TOP100, PI_UA_TOP500],
                  [PI_UA_BOT0, PI_UA_BOT20, PI_UA_BOT100, PI_UA_BOT500], PI_UA_GL, PI_UA_ZOOM, 20, 100),
            model(PI_PS_BED, [PI_PS_TOP0, PI_PS_TOP20, PI_PS_TOP100, PI_PS_TOP500],
                  [PI_PS_BOT0, PI_PS_BOT20, PI_PS_BOT100, PI_PS_BOT500], PI_PS_GL, PI_PS_ZOOM, 20, 200)]),
    dict(title="(b) Thwaites", main=R_MAIN, zoomx=R_ZOOM, rows=TOP_ROWS, xr=TH_X_RANGE,
         yr=[TH_Y_RANGE] * 3, xdt=25, ydt=500, models=[
            model(TH_EL_BED, [TH_EL_TOP0, TH_EL_TOP20, TH_EL_TOP100, TH_EL_TOP500],
                  [TH_EL_BOT0, TH_EL_BOT20, TH_EL_BOT100, TH_EL_BOT500], TH_EL_GL, TH_EL_ZOOM, 10, 100),
            model(TH_UA_BED, [TH_UA_TOP0, TH_UA_TOP20, TH_UA_TOP100, TH_UA_TOP500],
                  [TH_UA_BOT0, TH_UA_BOT20, TH_UA_BOT100, TH_UA_BOT500], TH_UA_GL, TH_UA_ZOOM, 10, 100),
            model(TH_PS_BED, [TH_PS_TOP0, TH_PS_TOP20, TH_PS_TOP100, TH_PS_TOP500],
                  [TH_PS_BOT0, TH_PS_BOT20, TH_PS_BOT100, TH_PS_BOT500], TH_PS_GL, TH_PS_ZOOM, 10, 100)]),
    dict(title="(c) Crosson", main=L_MAIN, zoomx=L_ZOOM, rows=BOT_ROWS, xr=CR_X_RANGE,
         yr=CR_Y_RANGES, xdt=20, ydt=500, models=[
            model(CR_EL_BED, [CR_EL_TOP0, CR_EL_TOP20, CR_EL_TOP100, CR_EL_TOP500],
                  [CR_EL_BOT0, CR_EL_BOT20, CR_EL_BOT100, CR_EL_BOT500], CR_EL_GL, CR_EL_ZOOM, 10, 100),
            model(CR_UA_BED, [CR_UA_TOP0, CR_UA_TOP20, CR_UA_TOP100, CR_UA_TOP500],
                  [CR_UA_BOT0, CR_UA_BOT20, CR_UA_BOT100, CR_UA_BOT500], CR_UA_GL, CR_UA_ZOOM, 10, 100),
            model(CR_PS_BED, [CR_PS_TOP0, CR_PS_TOP20, CR_PS_TOP100, CR_PS_TOP500],
                  [CR_PS_BOT0, CR_PS_BOT20, CR_PS_BOT100, CR_PS_BOT500], CR_PS_GL, CR_PS_ZOOM, 20, 100)]),
    dict(title="(d) Dotson", main=R_MAIN, zoomx=R_ZOOM, rows=BOT_ROWS, xr=DO_X_RANGE,
         yr=DO_Y_RANGES, xdt=100, ydt=1000, models=[
            model(DO_EL_BED, [DO_EL_TOP0, DO_EL_TOP20, DO_EL_TOP100, DO_EL_TOP500],
                  [DO_EL_BOT0, DO_EL_BOT20, DO_EL_BOT100, DO_EL_BOT500], DO_EL_GL, DO_EL_ZOOM, 10, 200),
            model(DO_UA_BED, [DO_UA_TOP0, DO_UA_TOP20, DO_UA_TOP100, DO_UA_TOP500],
                  [DO_UA_BOT0, DO_UA_BOT20, DO_UA_BOT100, DO_UA_BOT500], DO_UA_GL, DO_UA_ZOOM, 10, 200),
            model(DO_PS_BED, [DO_PS_TOP0, DO_PS_TOP20, DO_PS_TOP100, DO_PS_TOP500],
                  [DO_PS_BOT0, DO_PS_BOT20, DO_PS_BOT100, DO_PS_BOT500], DO_PS_GL, DO_PS_ZOOM, 10, 200)]),
]


def lower_surface(bot, bed):
    """Floating part of the lower surface, then the bed where the ice is grounded."""
    last = bot[-1][0]
    return list(bot) + [p for p in bed if p[0] > last]


def xs(pts):
    return [p[0] for p in pts]


def ys(pts):
    return [p[1] for p in pts]


fig = go.Figure()
layout_axes = {}
shapes = []
annotations = []


def axis_style(**kw):
    d = dict(showline=True, mirror=True, linecolor="#222222", linewidth=1, ticks="outside",
             ticklen=3.5, tickwidth=1, tickcolor="#222222", showgrid=False, zeroline=False,
             automargin=False, tickfont=dict(family=FONT, size=11, color=TXT))
    d.update(kw)
    return d


def text(t, x, y, size=11, color=TXT, xref="paper", yref="paper", xanchor="center",
         yanchor="middle", **kw):
    return dict(text=t, x=x, y=y, xref=xref, yref=yref, xanchor=xanchor, yanchor=yanchor,
                showarrow=False, font=dict(family=FONT, size=size, color=color), **kw)


def add_panel(m, n):
    xa = "x" if n == 1 else f"x{n}"
    ya = "y" if n == 1 else f"y{n}"
    common = dict(xaxis=xa, yaxis=ya, hoverinfo="skip", showlegend=False)
    bed = m["bed"]
    lowers = [lower_surface(b, bed) for b in m["bots"]]
    tops = m["tops"]
    lo, tp = lowers[3], tops[3]
    fig.add_trace(go.Scatter(x=xs(lo) + xs(tp)[::-1], y=ys(lo) + ys(tp)[::-1], fill="toself",
                             fillcolor=ICE, mode="lines", line=dict(width=0), **common))
    bx, by = xs(bed), ys(bed)
    fig.add_trace(go.Scatter(x=bx + [bx[-1], bx[0]], y=by + [FLOOR, FLOOR], fill="toself",
                             fillcolor=BED_FILL, mode="lines", line=dict(width=0), **common))
    fig.add_trace(go.Scatter(x=bx, y=by, mode="lines", line=dict(color=BED_LINE, width=1.5), **common))
    for i in range(4):
        for pts in (lowers[i], tops[i]):
            fig.add_trace(go.Scatter(x=xs(pts), y=ys(pts), mode="lines",
                                     line=dict(color=TIME_COLORS[i], width=1.6, dash=TIME_DASH[i]), **common))
    fig.add_trace(go.Scatter(x=[m["gl"][0]], y=[m["gl"][1]], mode="markers",
                             marker=dict(color="black", size=8), **common))


for g_i, g in enumerate(GLACIERS):
    for m_i, m in enumerate(g["models"]):
        nmain = g_i * 6 + m_i * 2 + 1
        nzoom = nmain + 1
        r0, r1 = g["rows"][m_i]
        add_panel(m, nmain)
        add_panel(m, nzoom)
        last_row = m_i == 2
        kx = "xaxis" if nmain == 1 else f"xaxis{nmain}"
        ky = "yaxis" if nmain == 1 else f"yaxis{nmain}"
        layout_axes[kx] = axis_style(domain=xd(*g["main"]), anchor=f"y{nmain}" if nmain > 1 else "y",
                                     range=g["xr"], dtick=g["xdt"], tick0=0, showticklabels=last_row)
        layout_axes[ky] = axis_style(domain=yd(r0, r1), anchor=f"x{nmain}" if nmain > 1 else "x",
                                     range=g["yr"][m_i], dtick=g["ydt"], tick0=0)
        zx, zy = m["zoom"]
        layout_axes[f"xaxis{nzoom}"] = axis_style(domain=xd(*g["zoomx"]), anchor=f"y{nzoom}",
                                                  range=zx, dtick=m["zxdt"], tick0=0)
        layout_axes[f"yaxis{nzoom}"] = axis_style(domain=yd(r0, r1), anchor=f"x{nzoom}", side="right",
                                                  range=zy, dtick=m["zydt"], tick0=0)
        xref = "x" if nmain == 1 else f"x{nmain}"
        yref = "y" if nmain == 1 else f"y{nmain}"
        shapes.append(dict(type="rect", xref=xref, yref=yref, x0=zx[0], x1=zx[1], y0=zy[0], y1=zy[1],
                           line=dict(color="black", width=1.1), layer="above"))
        annotations.append(text(MODEL_NAMES[m_i], 0.009, 0.975, size=13, color=MODEL_COLORS[m_i],
                                xref=f"{xref} domain", yref=f"{yref} domain", xanchor="left",
                                yanchor="top", bordercolor=MODEL_COLORS[m_i], borderwidth=1,
                                borderpad=3, bgcolor="white"))
    annotations.append(text(g["title"], g["main"][0] / W, 1 - (g["rows"][0][0] - 14) / H, size=13,
                            xanchor="left"))
    mid = (g["rows"][1][0] + g["rows"][1][1]) / 2
    left = g["main"][0] < 400
    annotations.append(text("Altitude (m)", (16 if left else 664) / W, 1 - mid / H, textangle=-90))
    annotations.append(text("m", (634 if left else 1276) / W, 1 - mid / H, textangle=-90))
    bottom = g["rows"][2][1]
    annotations.append(text("Distance (km)", (g["main"][0] + g["main"][1]) / 2 / W,
                            1 - (bottom + 29) / H))
    annotations.append(text("km", (g["zoomx"][0] + g["zoomx"][1]) / 2 / W, 1 - (bottom + 29) / H))

# ---------- hand-built legend in the first panel ----------
LEG = [(0, 0.2865, 0.899), (1, 0.2865, 0.804), (2, 0.475, 0.899), (3, 0.475, 0.804)]
for i, lx, ly in LEG:
    shapes.append(dict(type="line", xref="x domain", yref="y domain", x0=lx, x1=lx + 0.031, y0=ly, y1=ly,
                       line=dict(color=TIME_COLORS[i], width=1.6,
                                 dash="dot" if i == 0 else "solid")))
    annotations.append(text(TIME_LABELS[i], lx + 0.066, ly, xref="x domain", yref="y domain",
                            xanchor="left"))
annotations.append(text("●", 0.698, 0.899, size=10, color="black", xref="x domain", yref="y domain"))
annotations.append(text("BedMachine<br>grounding line", 0.743, 0.945, xref="x domain", yref="y domain",
                        xanchor="left", yanchor="top", align="left"))

fig.update_layout(width=W, height=H, autosize=False, margin=dict(l=0, r=0, t=0, b=0, pad=0),
                  plot_bgcolor="white", paper_bgcolor="white", showlegend=False, shapes=shapes,
                  annotations=annotations, font=dict(family=FONT, size=11, color=TXT), **layout_axes)

fig.write_html("out.html", config={"responsive": False, "displayModeBar": False},
               post_script="document.body.style.margin='0';document.body.style.padding='0';"
                           "document.body.style.overflow='hidden';")
